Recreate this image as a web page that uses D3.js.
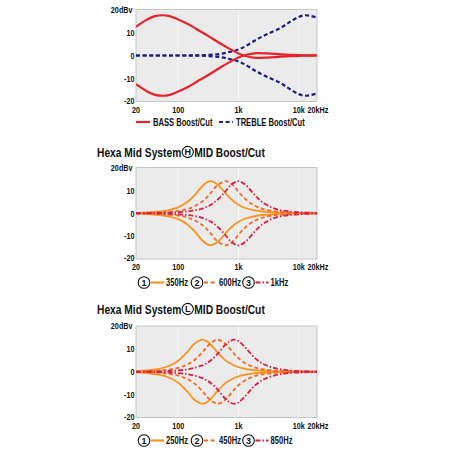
<!DOCTYPE html>
<html>
<head>
<meta charset="utf-8">
<script src="https://cdn.jsdelivr.net/npm/d3@7"></script>
<style>
  body { margin: 0; background: #fff; }
  text { font-family: "Liberation Sans", Arial, sans-serif; font-weight: bold; fill: #111; }
</style>
</head>
<body>
<div id="chart"></div>
<script>
// tone control chart (bass / treble)
const freqTone = [20, 30, 40, 56, 70, 100, 150, 200, 300, 500, 700, 1000, 1300, 2000, 3000, 5000, 7000, 10000, 13000, 20000];
const bassBoost = [12.5, 15.5, 17, 17.5, 17.2, 15.7, 13.5, 11.5, 8.8, 5.2, 3.0, 0.9, -0.2, -1.0, -0.9, -0.5, -0.3, -0.15, -0.1, 0];
const bassCut = [-12.5, -15.5, -17, -17.5, -17.2, -15.7, -13.5, -11.5, -8.8, -5.2, -3.0, -0.9, 0.2, 1.0, 0.9, 0.5, 0.3, 0.15, 0.1, 0];
const trebleBoost = [0, 0, 0, 0, 0, 0, 0, 0.05, 0.2, 0.7, 1.5, 2.6, 4, 7, 9.3, 12, 14.5, 16.8, 17.5, 16.5];
const trebleCut = [0, 0, 0, 0, 0, 0, 0, -0.05, -0.2, -0.7, -1.5, -2.6, -4, -7, -9.3, -12, -14.5, -16.8, -17.5, -16.5];
const toneLabels = ['BASS Boost/Cut', 'TREBLE Boost/Cut'];

// mid charts
const freqMid = [20, 30, 50, 70, 100, 140, 180, 250, 300, 350, 450, 600, 700, 850, 1000, 1300, 1800, 2500, 4000, 7000, 12000, 20000];
const midH350 = [0.18, 0.34, 0.8, 1.4, 2.6, 4.8, 7.4, 11.8, 13.5, 14, 12.6, 9.0, 7.0, 5.0, 3.75, 2.3, 1.35, 0.76, 0.35, 0.16, 0.07, 0.03];
const midH600 = [0.13, 0.16, 0.33, 0.55, 1.0, 1.8, 2.85, 5.1, 7.0, 9.0, 12.3, 14, 13.5, 11.7, 9.4, 6.2, 3.5, 1.9, 0.86, 0.34, 0.16, 0.07];
const midH1k = [0.04, 0.07, 0.16, 0.25, 0.44, 0.76, 1.15, 2.0, 2.85, 3.75, 5.9, 9.4, 11.6, 13.4, 14, 12.5, 8.4, 4.8, 2.0, 0.79, 0.33, 0.16];
const midH350Cut = [-0.18, -0.34, -0.8, -1.4, -2.6, -4.8, -7.4, -11.8, -13.5, -14, -12.6, -9.0, -7.0, -5.0, -3.75, -2.3, -1.35, -0.76, -0.35, -0.16, -0.07, -0.03];
const midH600Cut = [-0.13, -0.16, -0.33, -0.55, -1.0, -1.8, -2.85, -5.1, -7.0, -9.0, -12.3, -14, -13.5, -11.7, -9.4, -6.2, -3.5, -1.9, -0.86, -0.34, -0.16, -0.07];
const midH1kCut = [-0.04, -0.07, -0.16, -0.25, -0.44, -0.76, -1.15, -2.0, -2.85, -3.75, -5.9, -9.4, -11.6, -13.4, -14, -12.5, -8.4, -4.8, -2.0, -0.79, -0.33, -0.16];
const midHLabels = ['350Hz', '600Hz', '1kHz'];

const midL250 = [0.3, 0.57, 1.4, 2.5, 4.8, 8.5, 11.9, 14, 13.3, 11.8, 8.4, 5.1, 3.9, 2.75, 2.0, 1.3, 0.75, 0.44, 0.2, 0.1, 0.04, 0.02];
const midL450 = [0.14, 0.23, 0.51, 0.92, 1.7, 3.06, 4.8, 8.4, 10.9, 12.6, 14, 12.3, 10.4, 7.8, 5.9, 3.7, 2.0, 1.15, 0.52, 0.21, 0.1, 0.05];
const midL850 = [0.05, 0.09, 0.19, 0.32, 0.56, 1.0, 1.57, 2.75, 3.8, 5.0, 7.8, 11.7, 13.2, 14, 13.4, 10.6, 6.4, 3.57, 1.58, 0.58, 0.25, 0.13];
const midL250Cut = [-0.3, -0.57, -1.4, -2.5, -4.8, -8.5, -11.9, -14, -13.3, -11.8, -8.4, -5.1, -3.9, -2.75, -2.0, -1.3, -0.75, -0.44, -0.2, -0.1, -0.04, -0.02];
const midL450Cut = [-0.14, -0.23, -0.51, -0.92, -1.7, -3.06, -4.8, -8.4, -10.9, -12.6, -14, -12.3, -10.4, -7.8, -5.9, -3.7, -2.0, -1.15, -0.52, -0.21, -0.1, -0.05];
const midL850Cut = [-0.05, -0.09, -0.19, -0.32, -0.56, -1.0, -1.57, -2.75, -3.8, -5.0, -7.8, -11.7, -13.2, -14, -13.4, -10.6, -6.4, -3.57, -1.58, -0.58, -0.25, -0.13];
const midLLabels = ['250Hz', '450Hz', '850Hz'];

const xTicks = [20, 100, 1000, 10000, 20000];
const xTickLabels = ['20', '100', '1k', '10k', '20kHz'];
const yTicks = [20, 10, 0, -10, -20];
const yTickLabels = ['20dBv', '10', '0', '-10', '-20'];

const width = 450, height = 450;
const plotLeft = 136, plotRight = 317;
const squeeze = 0.76; // condensed look, no narrow font available

const svg = d3.select('#chart')
  .append('svg')
    .attr('width', width)
    .attr('height', height);

const x = d3.scaleLog().domain([20, 20000]).range([plotLeft, plotRight]);

const styles = {
  bass: { color: '#e8212b', dash: null, w: 2.2 },
  treble: { color: '#1c1f7e', dash: '4,2.6', w: 2.2 },
  m1: { color: '#f7941e', dash: null, w: 1.8 },
  m2: { color: '#f26a24', dash: '4,2.6', w: 1.8 },
  m3: { color: '#d71f45', dash: '5,2,1.5,2', w: 1.8 },
};

let label = (g, tx, ty, str, size, anchor = 'start') =>
  g.append('text')
    .attr('transform', `translate(${tx},${ty}) scale(${squeeze},1)`)
    .attr('dy', '0.35em')
    .attr('text-anchor', anchor)
    .style('font-size', size + 'px')
    .text(str);

let drawPanel = (id, yTop, yBottom, labelY, series) => {
  const y = d3.scaleLinear().domain([-20, 20]).range([yBottom, yTop]);
  const g = svg.append('g');

  g.append('rect')
    .attr('x', plotLeft).attr('y', y(20))
    .attr('width', plotRight - plotLeft).attr('height', y(-20) - y(20))
    .style('fill', '#ebebeb').style('stroke', '#c6c6c6').style('stroke-width', 1);

  g.selectAll('.grid')
    .data([100, 1000, 10000])
    .join('line')
      .attr('x1', d => x(d)).attr('x2', d => x(d))
      .attr('y1', y(20) + 0.5).attr('y2', y(-20) - 0.5)
      .style('stroke', '#f8f8f8').style('stroke-width', 1);

  g.append('clipPath').attr('id', 'clip' + id)
    .append('rect')
      .attr('x', plotLeft).attr('y', y(20))
      .attr('width', plotRight - plotLeft).attr('height', y(-20) - y(20));

  const line = d3.line()
    .x(d => x(d[0]))
    .y(d => y(d[1]))
    .curve(d3.curveCatmullRom.alpha(0.5));

  series.forEach(s => {
    const st = styles[s.style];
    g.append('path')
      .attr('clip-path', `url(#clip${id})`)
      .attr('d', line(d3.zip(s.freq, s.values)))
      .style('fill', 'none')
      .style('stroke', st.color)
      .style('stroke-width', st.w)
      .style('stroke-dasharray', st.dash);
  });

  yTicks.forEach((d, i) => label(g, i == 0 ? 132.5 : 134.5, y(d) - (i == 4 ? 1 : 0), yTickLabels[i], 9.5, 'end'));
  xTicks.forEach((d, i) => label(g, x(d) + (i == 4 ? 1 : 0), labelY, xTickLabels[i], 9.5, 'middle'));

  return g;
}

let legendLine = (g, x1, x2, cy, st) => {
  g.append('line')
    .attr('x1', x1).attr('x2', x2).attr('y1', cy).attr('y2', cy)
    .style('stroke', styles[st].color)
    .style('stroke-width', 2.2)
    .style('stroke-dasharray', styles[st].dash);
}

let circled = (g, cx, cy, r, str, size) => {
  g.append('circle')
    .attr('cx', cx).attr('cy', cy).attr('r', r)
    .style('fill', '#fff').style('stroke', '#111').style('stroke-width', 1.1);
  g.append('text')
    .attr('x', cx).attr('y', cy).attr('dy', '0.36em')
    .attr('text-anchor', 'middle')
    .style('font-size', size + 'px')
    .text(str);
}

let midLegend = (g, cy, labels) => {
  const centers = [144, 197, 248.5];
  labels.forEach((lab, i) => {
    const cx = centers[i];
    circled(g, cx, cy, 5.8, i + 1, 9);
    legendLine(g, cx + 7, cx + 20, cy, 'm' + (i + 1));
    label(g, cx + 22, cy, lab, 10);
  });
}

let title = (ty, letter) => {
  const g = svg.append('g');
  const t1 = label(g, 97, ty, 'Hexa Mid System', 13.5);
  const w = t1.node().getComputedTextLength() * squeeze;
  circled(g, 97 + w + 6.5, ty, 5.6, letter, 9);
  label(g, 97 + w + 13, ty, 'MID Boost/Cut', 13.5);
}

// chart 1
const g1 = drawPanel(1, 9.5, 101.5, 109.5, [
  { freq: freqTone, values: trebleBoost, style: 'treble' },
  { freq: freqTone, values: trebleCut, style: 'treble' },
  { freq: freqTone, values: bassBoost, style: 'bass' },
  { freq: freqTone, values: bassCut, style: 'bass' },
]);
legendLine(g1, 136, 150, 122, 'bass');
label(g1, 153, 122, toneLabels[0], 10);
legendLine(g1, 219, 233, 122, 'treble');
label(g1, 236, 122, toneLabels[1], 10);

// chart 2
title(152, 'H');
const g2 = drawPanel(2, 167.5, 259, 267, [
  { freq: freqMid, values: midH350, style: 'm1' },
  { freq: freqMid, values: midH350Cut, style: 'm1' },
  { freq: freqMid, values: midH600, style: 'm2' },
  { freq: freqMid, values: midH600Cut, style: 'm2' },
  { freq: freqMid, values: midH1k, style: 'm3' },
  { freq: freqMid, values: midH1kCut, style: 'm3' },
]);
midLegend(g2, 282.5, midHLabels);

// chart 3
title(309, 'L');
const g3 = drawPanel(3, 326, 417.5, 425.5, [
  { freq: freqMid, values: midL250, style: 'm1' },
  { freq: freqMid, values: midL250Cut, style: 'm1' },
  { freq: freqMid, values: midL450, style: 'm2' },
  { freq: freqMid, values: midL450Cut, style: 'm2' },
  { freq: freqMid, values: midL850, style: 'm3' },
  { freq: freqMid, values: midL850Cut, style: 'm3' },
]);
midLegend(g3, 440.5, midLLabels);
</script>
</body>
</html>
